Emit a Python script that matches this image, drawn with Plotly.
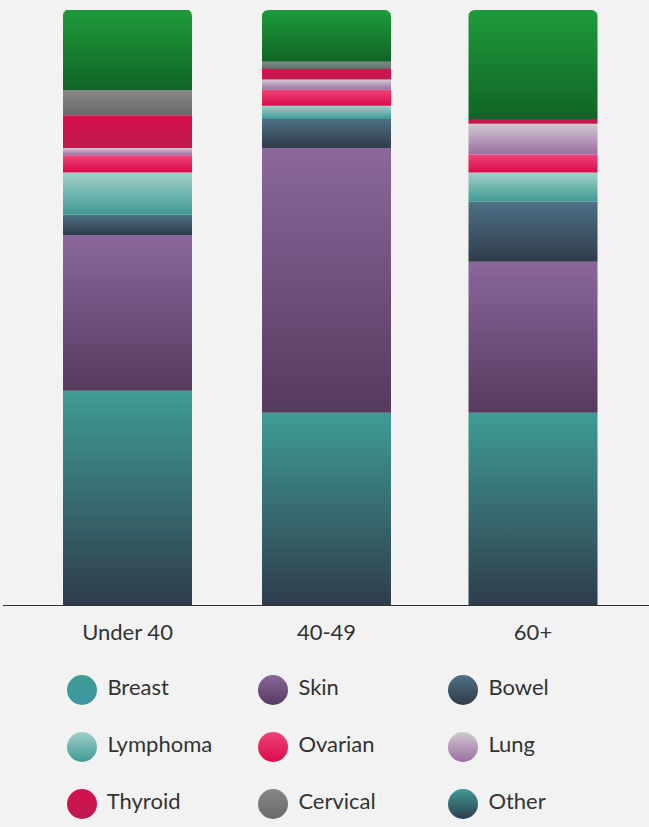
import math
import plotly.graph_objects as go

categories = ["Under 40", "40-49", "60+"]
series = ["Breast", "Skin", "Bowel", "Lymphoma", "Ovarian", "Lung", "Thyroid", "Cervical", "Other"]

breast = [36.0, 32.3, 32.3]
skin = [26.2, 44.5, 25.4]
bowel = [3.4, 4.9, 10.1]
lymphoma = [7.1, 2.2, 4.9]
ovarian = [2.9, 2.7, 3.0]
lung = [1.2, 1.7, 5.2]
thyroid = [5.5, 1.8, 0.8]
cervical = [4.2, 1.2, 0.0]
other = [13.6, 8.7, 18.3]

values = [breast, skin, bowel, lymphoma, ovarian, lung, thyroid, cervical, other]

# (bottom colour, top colour) for bar segments
bar_grad = {
    "Breast": ("#2f3c4b", "#3f9c95"),
    "Skin": ("#553a5e", "#8b679c"),
    "Bowel": ("#303c49", "#4e7086"),
    "Lymphoma": ("#3f9a93", "#a2d1ca"),
    "Ovarian": ("#da0a4b", "#f04479"),
    "Lung": ("#9a6da0", "#d2cad2"),
    "Thyroid": ("#bb1b50", "#d80f4c"),
    "Cervical": ("#6a6a6a", "#888888"),
    "Other": ("#106426", "#1e9b3b"),
}
# (top colour, bottom colour) for legend dots
legend_grad = {
    "Breast": ("#3f9c93", "#3d97a4"),
    "Skin": ("#8b679c", "#553a5e"),
    "Bowel": ("#4e7086", "#303c49"),
    "Lymphoma": ("#a2d1ca", "#3f9a93"),
    "Ovarian": ("#f04479", "#da0a4b"),
    "Lung": ("#d2cad2", "#9a6da0"),
    "Thyroid": ("#d80f4c", "#bb1b50"),
    "Cervical": ("#888888", "#6a6a6a"),
    "Other": ("#3f9c95", "#2f3c4b"),
}

BG = "#f2f2f2"
FONT = "Lato"
W, H = 649, 827

# layout geometry (pixels in the page)
x_left_px, x_right_px = 3, 649
c0_px, spacing_px = 127.5, 202.75
bar_pos = [0.0, 0.9815, 2.0]
xr = [(x_left_px - c0_px) / spacing_px, (x_right_px - c0_px) / spacing_px]
y_top_px, y_base_px = 10, 605
px_per_y = (y_base_px - y_top_px) / 100.0
bar_w = 129 / spacing_px
radius_px = 6.0

fig = go.Figure()

for ci, cat in enumerate(categories):
    base = 0.0
    nonzero = [si for si in range(len(series)) if values[si][ci] > 0]
    top_si = nonzero[-1]
    cx = bar_pos[ci]
    for si, name in enumerate(series):
        v = values[si][ci]
        if v <= 0:
            continue
        x0, x1 = cx - bar_w / 2, cx + bar_w / 2
        y0, y1 = base, base + v
        if si == top_si:
            rx = radius_px / spacing_px
            ry = radius_px / px_per_y
            xs = [x0, x1]
            ys = [y0, y0]
            for k in range(0, 11):
                a = math.radians(90 * k / 10)
                xs.append(x1 - rx + rx * math.cos(a))
                ys.append(y1 - ry + ry * math.sin(a))
            for k in range(0, 11):
                a = math.radians(90 + 90 * k / 10)
                xs.append(x0 + rx + rx * math.cos(a))
                ys.append(y1 - ry + ry * math.sin(a))
            xs.append(x0)
            ys.append(y0)
        else:
            xs = [x0, x1, x1, x0, x0]
            ys = [y0, y0, y1, y1, y0]
        cb, ct = bar_grad[name]
        fig.add_trace(go.Scatter(
            x=xs, y=ys, mode="lines", fill="toself",
            line=dict(width=0, color=ct),
            fillgradient=dict(type="vertical", colorscale=[[0, cb], [1, ct]], start=y0, stop=y1),
            hoverinfo="skip", showlegend=False, xaxis="x", yaxis="y",
        ))
        base = y1

# custom legend (3 columns x 3 rows)
col_x = [82, 273, 463]
row_y = [690, 747, 804]
for i, name in enumerate(series):
    ctop, cbot = legend_grad[name]
    fig.add_trace(go.Scatter(
        x=[col_x[i % 3]], y=[row_y[i // 3]],
        mode="markers+text",
        marker=dict(size=30, color=ctop, line=dict(width=0),
                    gradient=dict(type="vertical", color=cbot)),
        text=[" " + name], textposition="middle right",
        textfont=dict(family=FONT, size=22, color="#333333"),
        hoverinfo="skip", showlegend=False, xaxis="x2", yaxis="y2", cliponaxis=False,
    ))

fig.update_layout(
    width=W, height=H,
    margin=dict(l=0, r=0, t=0, b=0),
    paper_bgcolor=BG, plot_bgcolor="rgba(0,0,0,0)",
    showlegend=False,
    xaxis=dict(
        domain=[x_left_px / W, 1], range=xr, anchor="y",
        tickmode="array", tickvals=bar_pos, ticktext=categories,
        showgrid=False, zeroline=False, showline=True, linecolor="#333333", linewidth=1,
        ticks="", tickfont=dict(family=FONT, size=22, color="#333333"),
        ticklabelstandoff=8, fixedrange=True,
    ),
    yaxis=dict(
        domain=[(H - y_base_px) / H, (H - y_top_px) / H], range=[0, 100], anchor="x",
        showgrid=False, zeroline=False, showline=False, showticklabels=False, ticks="",
        fixedrange=True,
    ),
    xaxis2=dict(domain=[0, 1], range=[0, W], visible=False, anchor="y2", fixedrange=True),
    yaxis2=dict(domain=[0, 0.3], range=[H, H * 0.7], visible=False, anchor="x2", fixedrange=True),
)

fig.write_html("out.html")
